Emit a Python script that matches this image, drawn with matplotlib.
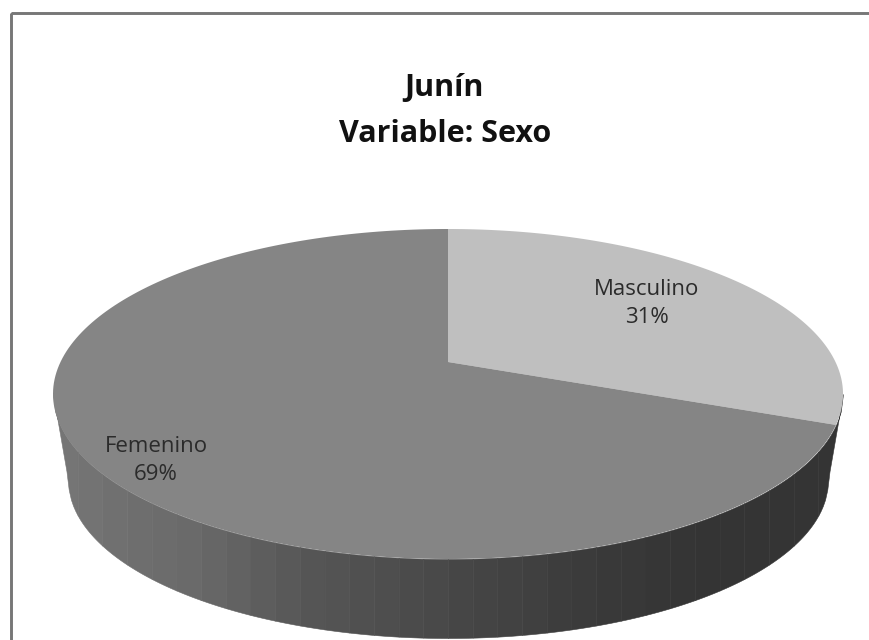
# Junin / Sexo - 3D looking pie, greyscale

import numpy as np
import matplotlib
matplotlib.use("Agg")
import matplotlib.pyplot as plt
from matplotlib.patches import Rectangle

labels = ["Masculino", "Femenino"]
values = [31, 69]
slice_colors = ["#bfbfbf", "#858585"]
title_lines = ["Junín", "Variable: Sexo"]

W, H = 869, 640
CX, CY = 448, 394      # centre of top ellipse
RX, RY = 395, 165
APEX_Y = 362           # pie centre sits above the ellipse centre (perspective)
BOT_CY, BOT_RX, BOT_RY = 480, 380, 158

# perspective of a unit circle on to the top ellipse
K = (CY + RY - APEX_Y - (APEX_Y - CY + RY)) / (CY + RY - APEX_Y + (APEX_Y - CY + RY))
B = (APEX_Y - CY + RY) * (1 + K)
A = RX * np.sqrt(1 - K ** 2)


def project(deg):
    # deg is clockwise from the top of the pie
    a = np.radians(deg)
    w = 1 + K * np.cos(a)
    return CX + A * np.sin(a) / w, APEX_Y - B * np.cos(a) / w


def wall_edges(x):
    # top and bottom of the side wall at pixel column x
    dx = np.abs(x - CX)
    top = CY + RY * np.sqrt(np.clip(1 - (dx / RX) ** 2, 0, 1))
    bot = BOT_CY + BOT_RY * np.sqrt(np.clip(1 - (dx / BOT_RX) ** 2, 0, 1))
    # outside the bottom ellipse the wall edge runs straight down and inwards
    side = dx > BOT_RX
    bot = np.where(side, CY + (BOT_CY - CY) * (RX - dx) / (RX - BOT_RX), bot)
    return top, bot


fig = plt.figure(figsize=(W / 100, H / 100), dpi=100)
ax = fig.add_axes([0, 0, 1, 1])
ax.set_xlim(0, W)
ax.set_ylim(H, 0)
ax.axis("off")

# frame, runs off the right and bottom of the picture
ax.add_patch(Rectangle((10.5, 12.5), W + 20, H + 20, fill=False, ec="#777777", lw=2.1))

# side wall in vertical bands, light on the left, dark on the right
band_x = np.linspace(CX - RX, CX + RX, 33)
for x0, x1 in zip(band_x[:-1], band_x[1:]):
    xs = np.linspace(x0, x1, 12)
    top, bot = wall_edges(xs)
    g = np.interp((x0 + x1) / 2, [60, 200, 300, 450, 600, 700], [0.46, 0.41, 0.34, 0.28, 0.225, 0.205])
    ax.fill_between(xs, top, bot, color=(g, g, g), lw=0.4, zorder=1)

# top face
start = 0.0
for val, col in zip(values, slice_colors):
    sweep = val / sum(values) * 360
    th = np.linspace(start, start + sweep, 200)
    x, y = project(th)
    ax.fill(np.r_[CX, x], np.r_[APEX_Y, y], fc=col, ec="none", zorder=2)
    start += sweep

font = ["Open Sans", "DejaVu Sans"]
label_pos = [(647, 295, 323), (156, 452, 480)]
for name, val, (x, y1, y2) in zip(labels, values, label_pos):
    ax.text(x, y1, name, ha="center", va="baseline", fontsize=16, color="#2b2b2b", family=font, zorder=3)
    ax.text(x, y2, f"{val}%", ha="center", va="baseline", fontsize=16, color="#2b2b2b", family=font, zorder=3)

ax.text(444, 96, title_lines[0], ha="center", va="baseline", fontsize=22, fontweight="bold",
        color="#111111", family=font, zorder=3)
ax.text(445, 142, title_lines[1], ha="center", va="baseline", fontsize=22, fontweight="bold",
        color="#111111", family=font, zorder=3)

fig.savefig("out.png", dpi=100)
